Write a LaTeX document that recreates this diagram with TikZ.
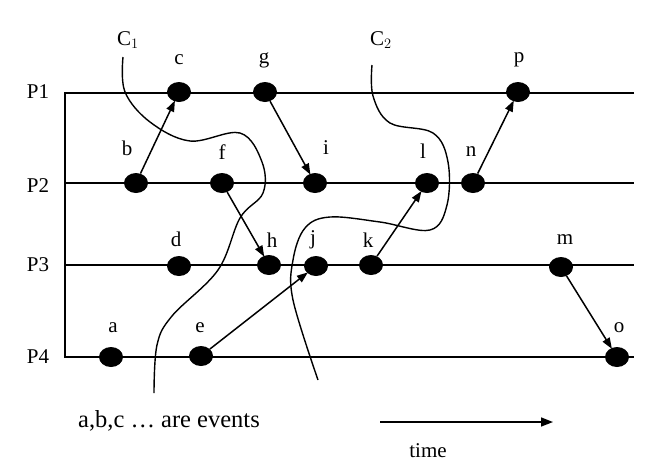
\documentclass[tikz,border=0pt]{standalone}
\usepackage{fontspec}
\setmainfont{Liberation Serif}
\usetikzlibrary{shapes.geometric,arrows.meta}
\begin{document}
\begin{tikzpicture}[x=1pt,y=-1pt,
  every node/.style={font=\fontsize{21}{25}\selectfont},
  ev/.style={ellipse,fill=black,draw=none,minimum width=24pt,minimum height=20pt,inner sep=0pt},
  lbl/.style={inner sep=0pt},
  proc/.style={line width=1.6pt},
  msg/.style={line width=1.5pt,-{Triangle[length=11pt,width=8pt]},shorten >=-1pt},
  cut/.style={line width=1.4pt}]
\useasboundingbox (0,0) rectangle (655,464);
% process lines
\coordinate (p1s) at (65,93);  \coordinate (p1e) at (634,93);
\coordinate (p2s) at (65,183); \coordinate (p2e) at (634,183);
\coordinate (p3s) at (65,265); \coordinate (p3e) at (634,265);
\coordinate (p4s) at (65,357); \coordinate (p4e) at (634,357);
\draw[proc] (p1e) -- (p1s) -- (p4s) -- (p4e);
\draw[proc] (p2s) -- (p2e);
\draw[proc] (p3s) -- (p3e);
\node[lbl] (P1) at (38,92) {P1};
\node[lbl] (P2) at (38,186) {P2};
\node[lbl] (P3) at (38,265) {P3};
\node[lbl] (P4) at (38,357) {P4};
% events
\node[ev] (c) at (179,92) {};
\node[ev] (g) at (265,92) {};
\node[ev] (p) at (518,92) {};
\node[ev] (b) at (136,183) {};
\node[ev] (f) at (222,183) {};
\node[ev] (i) at (315,183) {};
\node[ev] (l) at (427,183) {};
\node[ev] (n) at (473,183) {};
\node[ev] (d) at (179,266) {};
\node[ev] (h) at (269,265) {};
\node[ev] (j) at (316,266) {};
\node[ev] (k) at (371,265) {};
\node[ev] (m) at (561,267) {};
\node[ev] (a) at (111,357) {};
\node[ev] (e) at (201,356) {};
\node[ev] (o) at (617,357) {};
% event labels
\node[lbl] (lc) at (179,60) {c};
\node[lbl] (lg) at (264,60) {g};
\node[lbl] (lp) at (519,60) {p};
\node[lbl] (lb) at (127,148) {b};
\node[lbl] (lf) at (222,152) {f};
\node[lbl] (li) at (326,148) {i};
\node[lbl] (ll) at (423,151) {l};
\node[lbl] (ln) at (471,152) {n};
\node[lbl] (ld) at (176,239) {d};
\node[lbl] (lh) at (272,240) {h};
\node[lbl] (lj) at (313,240) {j};
\node[lbl] (lk) at (368,240) {k};
\node[lbl] (lm) at (565,240) {m};
\node[lbl] (la) at (113,328) {a};
\node[lbl] (le) at (200,328) {e};
\node[lbl] (lo) at (619,328) {o};
% messages
\draw[msg] (b) -- (c);
\draw[msg] (g) -- (i);
\draw[msg] (f) -- (h);
\draw[msg] (e) -- (j);
\draw[msg] (k) -- (l);
\draw[msg] (n) -- (p);
\draw[msg] (m) -- (o);
% cuts
\node[lbl] (C1) at (128,40) {C$_1$};
\node[lbl] (C2) at (381,40) {C$_2$};
\draw[cut] plot[smooth,tension=0.6] coordinates {(123,57) (125,92) (150,122) (190,141) (240,133) (262,162) (263,193) (240,218) (218,270) (172,316) (157,345) (154,393)};
\draw[cut] plot[smooth,tension=0.6] coordinates {(372,65) (373,96) (390,123) (433,133) (448,162) (447,205) (430,230) (380,222) (330,217) (305,228) (293,260) (293,300) (318,380)};
% captions
\node[lbl,font=\fontsize{24.5}{29}\selectfont] (ev) at (169,421) {a,b,c … are events};
\coordinate (t0) at (380,422); \coordinate (t1) at (553,422);
\draw[line width=1.5pt,-{Triangle[length=12pt,width=9pt]}] (t0) -- (t1);
\node[lbl,font=\fontsize{21}{25}\selectfont] (time) at (428,451) {time};
\end{tikzpicture}
\end{document}
